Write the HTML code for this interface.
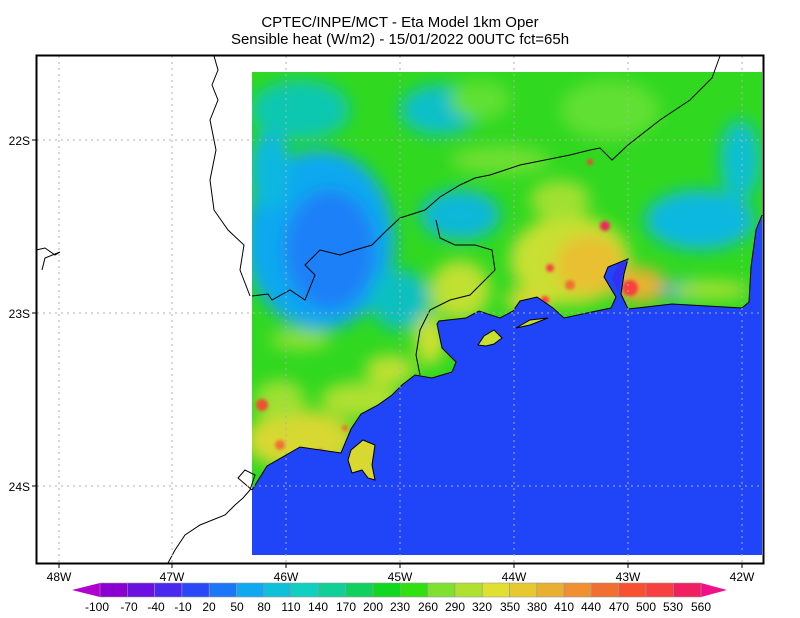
<!DOCTYPE html>
<html><head><meta charset="utf-8"><style>
body{margin:0;background:#fff;}
svg{display:block;font-family:"Liberation Sans",sans-serif;}
</style></head><body>
<svg width="800" height="618" viewBox="0 0 800 618" xmlns="http://www.w3.org/2000/svg">
<defs>
<filter id="b8" x="-50%" y="-50%" width="200%" height="200%"><feGaussianBlur stdDeviation="8"/></filter>
<filter id="b4" x="-50%" y="-50%" width="200%" height="200%"><feGaussianBlur stdDeviation="4"/></filter>
<filter id="b2" x="-50%" y="-50%" width="200%" height="200%"><feGaussianBlur stdDeviation="1.5"/></filter>
<clipPath id="dc"><rect x="252" y="72" width="510" height="483"/></clipPath>
</defs>
<text x="400" y="27" text-anchor="middle" font-size="15">CPTEC/INPE/MCT -  Eta Model 1km Oper</text>
<text x="400" y="44" text-anchor="middle" font-size="15">Sensible heat (W/m2) - 15/01/2022 00UTC fct=65h</text>

<g clip-path="url(#dc)">
<rect x="252" y="72" width="510" height="483" fill="#30d820"/>
<g filter="url(#b8)">
<ellipse cx="300" cy="110" rx="50" ry="30" fill="#10c8b0"/>
<ellipse cx="440" cy="110" rx="40" ry="25" fill="#10c0c8"/>
<ellipse cx="320" cy="240" rx="75" ry="90" fill="#10a8f0"/>
<ellipse cx="330" cy="250" rx="45" ry="60" fill="#1a80f8"/>
<ellipse cx="270" cy="170" rx="20" ry="40" fill="#10b8e0"/>
<ellipse cx="460" cy="215" rx="40" ry="25" fill="#10b8d8"/>
<ellipse cx="400" cy="300" rx="30" ry="30" fill="#10c0c0"/>
<ellipse cx="700" cy="220" rx="55" ry="30" fill="#10b8e0"/>
<ellipse cx="740" cy="160" rx="20" ry="40" fill="#10c0d0"/>
<ellipse cx="690" cy="290" rx="30" ry="10" fill="#1090f0"/>
<ellipse cx="610" cy="110" rx="50" ry="30" fill="#60e030"/>
<ellipse cx="500" cy="160" rx="50" ry="14" fill="#70e030"/>
<ellipse cx="480" cy="100" rx="30" ry="20" fill="#60e030"/>
<ellipse cx="300" cy="440" rx="55" ry="30" fill="#d8d830"/>
<ellipse cx="280" cy="400" rx="25" ry="20" fill="#a0e030"/>
<ellipse cx="360" cy="400" rx="40" ry="18" fill="#b0e030"/>
<ellipse cx="390" cy="370" rx="25" ry="15" fill="#c0e030"/>
<ellipse cx="300" cy="340" rx="30" ry="10" fill="#90e030"/>
<ellipse cx="460" cy="290" rx="30" ry="30" fill="#c0e030"/>
<ellipse cx="430" cy="340" rx="15" ry="25" fill="#d0e030"/>
<ellipse cx="570" cy="260" rx="60" ry="45" fill="#c8e030"/>
<ellipse cx="590" cy="265" rx="35" ry="30" fill="#e8c030"/>
<ellipse cx="640" cy="285" rx="25" ry="18" fill="#e8b030"/>
<ellipse cx="530" cy="300" rx="25" ry="12" fill="#d8d830"/>
<ellipse cx="710" cy="290" rx="40" ry="10" fill="#a0e030"/>
<ellipse cx="560" cy="200" rx="30" ry="20" fill="#a0e030"/>
</g>
<g filter="url(#b2)">
<circle cx="605" cy="226" r="5" fill="#f02060"/>
<circle cx="550" cy="268" r="4" fill="#f84040"/>
<circle cx="262" cy="405" r="6" fill="#f05030"/>
<circle cx="630" cy="288" r="8" fill="#f84040"/>
<circle cx="545" cy="300" r="4" fill="#f84040"/>
<circle cx="590" cy="162" r="3" fill="#f84040"/>
<circle cx="280" cy="445" r="5" fill="#f07030"/>
<circle cx="570" cy="285" r="5" fill="#f07030"/>
<circle cx="320" cy="452" r="3" fill="#f84040"/>
<circle cx="345" cy="428" r="3" fill="#f07030"/>
</g>
<polygon fill="#2044f8" points="252,490 267,466 300,447 341,453 351,429 361,414 378,405 392,395 402,385 415,375 432,378 452,372 456,362 442,348 437,324 439,321 466,318 479,311 500,318 513,311 520,301 537,297 553,308 564,318 587,313 611,308 616,297 604,277 608,267 628,259 624,274 621,294 628,309 672,304 742,308 749,302 751,267 756,230 762,215 762,555 252,555"/>
<polygon fill="#d8d830" stroke="#000" stroke-width="1" points="351,450 363,440 375,445 372,465 375,480 368,478 362,470 352,473 348,460"/>
<polygon fill="#c8e030" stroke="#000" stroke-width="1" points="478,345 484,336 494,330 502,338 494,344 486,346"/>
<polygon fill="#c8e030" stroke="#000" stroke-width="1" points="516,328 530,320 548,318 530,325"/>
<polygon fill="#3030f0" points="612,278 618,264 626,262 622,276 618,292"/>
</g>

<g fill="none" stroke="#000" stroke-width="1">
<polyline points="252,490 267,466 300,447 341,453 351,429 361,414 378,405 392,395 402,385 415,375 432,378 452,372 456,362 442,348 437,324 439,321 466,318 479,311 500,318 513,311 520,301 537,297 553,308 564,318 587,313 611,308 616,297 604,277 608,267 628,259 624,274 621,294 628,309 672,304 742,308 749,302 751,267 756,230 762,215"/>
<polyline points="252,296 268,294 272,300 290,290 305,300 315,275 305,265 320,250 340,255 355,250 372,245 385,232 400,218 425,210 440,197 460,185 475,178 490,175 520,165 545,160 570,155 590,150 600,148 612,160 628,145 660,120 690,100 712,78 720,56"/>
<polyline points="436,220 440,238 455,245 475,245 492,250 495,270 480,285 470,295 450,300 430,310 420,330 416,355 420,375"/>
<polyline points="252,490 245,484 238,478 245,470 255,475 250,490 243,498 235,505 225,515 200,525 185,535 175,550 168,563"/>
<polyline points="214,56 218,70 212,85 218,100 210,120 216,150 210,180 214,210 228,230 244,245 240,270 250,296"/>
<polyline points="36,250 45,248 55,255 60,252 45,258 42,270"/>
</g>

<g stroke="#b0b0b0" stroke-width="1" stroke-dasharray="2,4">
<line x1="59" y1="56" x2="59" y2="563"/><line x1="172" y1="56" x2="172" y2="563"/>
<line x1="286" y1="56" x2="286" y2="563"/><line x1="400" y1="56" x2="400" y2="563"/>
<line x1="514" y1="56" x2="514" y2="563"/><line x1="628" y1="56" x2="628" y2="563"/>
<line x1="742" y1="56" x2="742" y2="563"/>
<line x1="37" y1="140" x2="763" y2="140"/><line x1="37" y1="313" x2="763" y2="313"/>
<line x1="37" y1="486" x2="763" y2="486"/>
</g>
<rect x="36.5" y="55.5" width="727" height="508" fill="none" stroke="#000" stroke-width="2"/>
<g stroke="#000"><line x1="59" y1="564" x2="59" y2="568"/><line x1="172" y1="564" x2="172" y2="568"/><line x1="286" y1="564" x2="286" y2="568"/><line x1="400" y1="564" x2="400" y2="568"/><line x1="514" y1="564" x2="514" y2="568"/><line x1="628" y1="564" x2="628" y2="568"/><line x1="742" y1="564" x2="742" y2="568"/>
<line x1="32" y1="140" x2="36" y2="140"/><line x1="32" y1="313" x2="36" y2="313"/><line x1="32" y1="486" x2="36" y2="486"/></g>
<g font-size="12" text-anchor="end"><text x="30" y="145">22S</text><text x="30" y="318">23S</text><text x="30" y="491">24S</text></g>
<g font-size="12" text-anchor="middle"><text x="59" y="581">48W</text><text x="172" y="581">47W</text><text x="286" y="581">46W</text><text x="400" y="581">45W</text><text x="514" y="581">44W</text><text x="628" y="581">43W</text><text x="742" y="581">42W</text></g>

<polygon points="100,583 72,590 100,597" fill="#b000d0"/>
<polygon points="701,583 727,590 701,597" fill="#f0108a"/>
<g stroke="#999" stroke-width="0.6">
<rect x="100" y="583" width="27.3" height="14" fill="#8a00d0"/>
<rect x="127.3" y="583" width="27.3" height="14" fill="#6a10e0"/>
<rect x="154.6" y="583" width="27.3" height="14" fill="#4a28f0"/>
<rect x="181.9" y="583" width="27.3" height="14" fill="#2a48f8"/>
<rect x="209.2" y="583" width="27.3" height="14" fill="#1a78f8"/>
<rect x="236.5" y="583" width="27.3" height="14" fill="#10a8f0"/>
<rect x="263.8" y="583" width="27.3" height="14" fill="#10c0d8"/>
<rect x="291.1" y="583" width="27.3" height="14" fill="#10d0c0"/>
<rect x="318.4" y="583" width="27.3" height="14" fill="#10d098"/>
<rect x="345.7" y="583" width="27.3" height="14" fill="#10d060"/>
<rect x="373" y="583" width="27.3" height="14" fill="#10d820"/>
<rect x="400.3" y="583" width="27.3" height="14" fill="#30e010"/>
<rect x="427.6" y="583" width="27.3" height="14" fill="#80e030"/>
<rect x="454.9" y="583" width="27.3" height="14" fill="#b0e030"/>
<rect x="482.2" y="583" width="27.3" height="14" fill="#e0e030"/>
<rect x="509.5" y="583" width="27.3" height="14" fill="#e8c830"/>
<rect x="536.8" y="583" width="27.3" height="14" fill="#e8b030"/>
<rect x="564.1" y="583" width="27.3" height="14" fill="#f09030"/>
<rect x="591.4" y="583" width="27.3" height="14" fill="#f07030"/>
<rect x="618.7" y="583" width="27.3" height="14" fill="#f85030"/>
<rect x="646" y="583" width="27.3" height="14" fill="#f84040"/>
<rect x="673.3" y="583" width="27.7" height="14" fill="#f02060"/>
</g>
<g font-size="12" text-anchor="middle">
<text x="97" y="611">-100</text><text x="129" y="611">-70</text><text x="156" y="611">-40</text><text x="183" y="611">-10</text><text x="209" y="611">20</text><text x="237" y="611">50</text><text x="264" y="611">80</text><text x="291" y="611">110</text><text x="318" y="611">140</text><text x="346" y="611">170</text><text x="373" y="611">200</text><text x="400" y="611">230</text><text x="428" y="611">260</text><text x="455" y="611">290</text><text x="482" y="611">320</text><text x="510" y="611">350</text><text x="537" y="611">380</text><text x="564" y="611">410</text><text x="591" y="611">440</text><text x="619" y="611">470</text><text x="646" y="611">500</text><text x="673" y="611">530</text><text x="701" y="611">560</text>
</g>
</svg>
</body></html>
